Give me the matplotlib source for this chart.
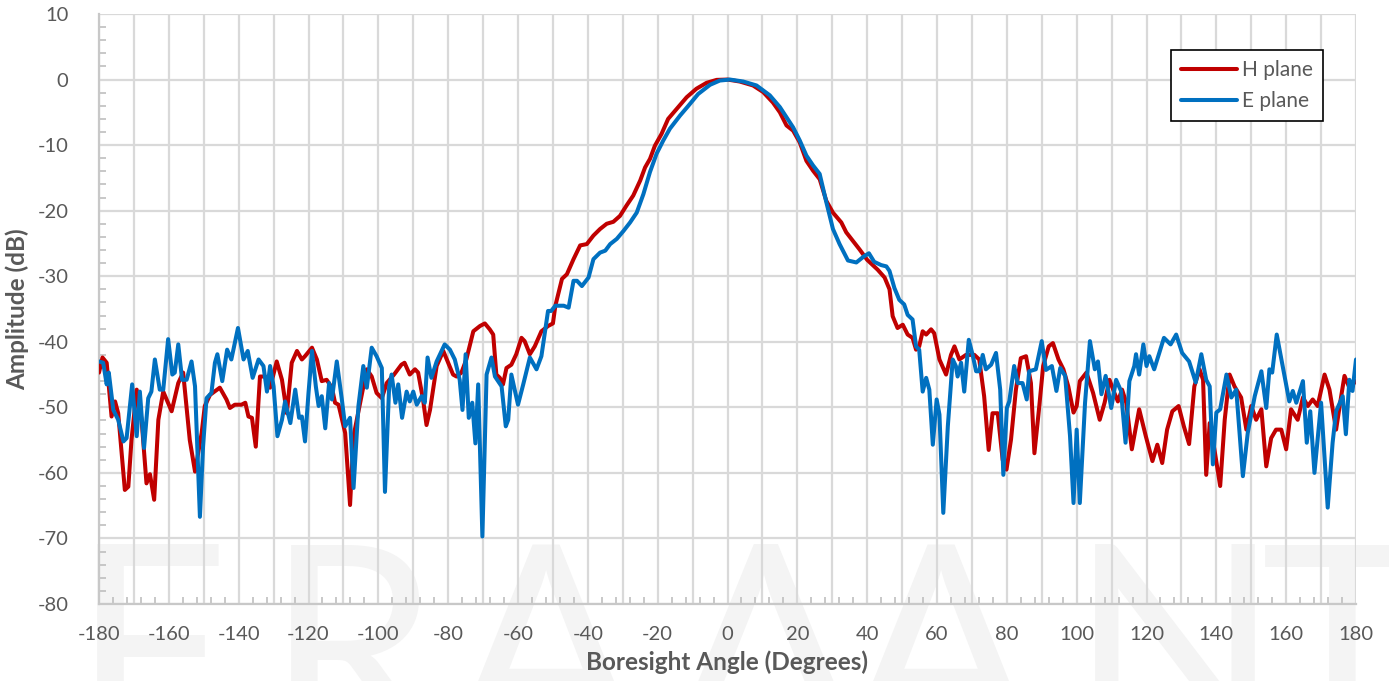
import matplotlib
matplotlib.use("Agg")
import matplotlib.pyplot as plt
from matplotlib.ticker import MultipleLocator, FuncFormatter

plt.rcParams["axes.unicode_minus"] = False

# ---------------- data ----------------
h_angle = [-180, -179, -177.8, -176.4, -175.4, -174.5, -172.6, -171.6, -170.7, -169.2,
           -167.8, -166.4, -165.4, -164.2, -163, -161.6, -159.2, -157.3, -155.9, -154,
           -152.5, -150.6, -149.7, -148.2, -145.4, -143.5, -142.5, -141.1, -139.2, -138.1,
           -137.2, -136.2, -135.1, -133.9, -132.4, -131, -129.1, -127.6, -126.2, -124.8,
           -123.3, -121.9, -121, -119, -117.6, -116.2, -114.8, -113.3, -112.4, -111.4,
           -109.5, -108.1, -107.1, -105.2, -103.3, -101.9, -100.5, -99, -97.6, -95.5,
           -93.4, -92.5, -91, -89.5, -88.6, -87.2, -86.2, -85.2, -83.3, -81.4,
           -80, -78.6, -77.6, -76.2, -74.8, -72.8, -70.9, -69.5, -68.1, -67.1,
           -66.2, -65.2, -64.3, -63.3, -61.9, -60.5, -59, -58.1, -56.6, -55.2,
           -53.3, -51.4, -50, -49.3, -47.4, -46, -44.1, -42.2, -40.3, -38.4,
           -36.5, -34.6, -32.7, -30.8, -28.9, -27, -25, -23.6, -22.2, -20.8,
           -18.9, -17, -14.6, -11.7, -8.9, -6, -3.1, 0, 3.5, 7.3,
           10.2, 13, 15, 16.9, 18.8, 20.7, 22.6, 24.5, 26.4, 28.3,
           30.2, 32.6, 34, 35.9, 37.8, 40, 43, 45, 46.4, 47.3,
           48.7, 50.2, 51.6, 53, 54, 54.9, 55.9, 56.9, 58.3, 59.2,
           60.7, 62.6, 64, 65, 66.4, 68.3, 70.7, 72.1, 73.5, 74.8,
           75.9, 77.4, 78.8, 79.9, 81.2, 82.6, 84, 85.5, 86.9, 87.9,
           89.3, 90.4, 92, 93.2, 94.8, 96.2, 97.6, 99.1, 100, 100.9,
           102.8, 104.7, 106.6, 108, 109.4, 110.8, 111.8, 113, 114.2, 115.8,
           117.9, 119.8, 121.7, 123.1, 124.5, 125.9, 127.4, 129.2, 130.7, 132.2,
           133.7, 135.2, 136.2, 137.1, 138.1, 139, 141.1, 142.4, 143.8, 145.2,
           147.1, 148.6, 150, 151.4, 152.9, 154.3, 155.7, 157.1, 158.6, 160,
           161.4, 163.3, 164.8, 166.2, 167.6, 169, 171, 172.4, 174.3, 175.7,
           176.7, 178.1, 180]
h_plane = [-44.7, -42.4, -43.2, -51.4, -49.1, -50.9, -62.6, -62.1, -55, -47.3,
           -51.9, -61.6, -60.2, -64.1, -51.9, -47.6, -50.6, -46.3, -44.7, -55,
           -59.8, -53.9, -49.8, -48.1, -47, -48.8, -50.1, -49.6, -49.6, -49.3,
           -51.4, -51.6, -56, -45.3, -45.3, -47, -43, -45.8, -50.9, -43.2,
           -41.4, -42.7, -42.2, -40.9, -42.7, -46, -45.8, -47, -49.3, -49.6,
           -53.9, -64.9, -54.4, -49.3, -44.2, -45.3, -47.8, -48.6, -46.3, -45,
           -43.5, -43.2, -45, -44.2, -44.7, -48.8, -52.7, -50.4, -43.7, -41.4,
           -43.2, -45, -45.3, -44.7, -42.7, -38.4, -37.6, -37.2, -38.1, -38.9,
           -45, -45.5, -46.5, -44, -43.5, -41.9, -39.4, -39.9, -41.9, -40.7,
           -38.4, -37.6, -37.2, -34.5, -30.4, -29.7, -27.4, -25.3, -25.1, -23.8,
           -22.8, -22, -21.7, -20.8, -19.2, -17.7, -15.4, -13.4, -12.1, -10.1,
           -8.3, -6, -4.5, -2.7, -1.4, -0.5, -0.05, 0, -0.3, -0.9,
           -1.9, -3.5, -5, -7, -7.8, -9.6, -12.4, -13.9, -15.2, -18.5,
           -20.3, -21.8, -23.3, -24.6, -25.9, -27.5, -29, -30.2, -32, -36.1,
           -37.9, -37.4, -38.9, -39.4, -41.2, -40.7, -38.4, -38.9, -38.1, -38.7,
           -42.7, -45, -42, -40.7, -42.7, -42, -42, -42.7, -48.3, -56.5,
           -50.9, -50.9, -58, -59.5, -54.9, -47.3, -42.5, -42.2, -46.3, -57,
           -49.8, -43.7, -40.7, -40.2, -42.7, -44.2, -46.8, -50.8, -49.8, -46,
           -44.7, -47.8, -51.9, -49.3, -45.8, -47.8, -49.1, -47.3, -49.3, -56.4,
           -50.3, -54.4, -58.2, -55.7, -58.5, -53.4, -50.6, -49.8, -52.9, -55.6,
           -46.8, -44.2, -45.8, -60.3, -52.4, -54.9, -62, -51.9, -45, -46.8,
           -48.5, -53.4, -49.8, -51.9, -50.3, -59, -54.7, -53.4, -53.4, -56.4,
           -50.3, -51.9, -48.5, -49.8, -48.8, -49.8, -45, -47.3, -53.4, -48.5,
           -45.2, -47, -46]

e_angle = [-180, -178.8, -177.8, -177.2, -175.9, -174.5, -173, -172.1, -170.5, -169.2,
           -168.3, -167.1, -165.9, -165, -164, -162.6, -161.6, -160.2, -159, -158.3,
           -157.3, -156.2, -154.9, -153.5, -152.5, -151.1, -150.2, -149.2, -147.8, -146.8,
           -146.1, -144.7, -143.3, -142.1, -140.2, -138.6, -137.4, -136, -134.3, -132.9,
           -131.9, -131, -130, -128.9, -127.6, -126.7, -125.2, -123.8, -122.7, -121.9,
           -121, -120, -119, -117.9, -117.1, -116.2, -115.2, -114.1, -113.3, -111.9,
           -110.5, -109.5, -108.1, -107.1, -105.7, -104.3, -103.3, -101.9, -100.5, -99,
           -98.1, -96.9, -96.2, -95.1, -94.3, -93.2, -91.9, -91, -90, -89,
           -87.6, -86.7, -85.9, -84.8, -83.3, -81, -79.5, -78.1, -76.7, -75.9,
           -75, -74.1, -73.1, -72.2, -71.4, -70.2, -69, -67.6, -66.6, -64.7,
           -63.5, -62.8, -61.9, -60, -58.5, -56.6, -54.7, -53.3, -51.4, -50.5,
           -49.3, -46.9, -45.5, -44.1, -43.1, -41.7, -39.8, -38.4, -36.5, -35,
           -33.6, -31.7, -29.8, -27.9, -26, -24.1, -22.2, -20.3, -18.4, -16.5,
           -13.6, -11.2, -8.4, -5, -2.2, 0.7, 4.5, 8.3, 12.1, 15,
           17.8, 18.8, 20.7, 22.6, 24.5, 26.4, 28.3, 30.2, 32.1, 34.5,
           36.9, 39, 40.5, 42, 44, 45.5, 46.4, 47.8, 49.2, 50.6,
           51.6, 53, 54, 54.9, 55.9, 56.9, 57.8, 58.8, 59.9, 60.7,
           61.8, 63.1, 64.5, 65.4, 65.9, 66.9, 67.8, 69.1, 70.2, 71.2,
           72.1, 73.1, 74, 75.5, 76.9, 78.1, 79, 80, 80.7, 82.1,
           83.1, 84.5, 85.7, 86.4, 88.3, 90, 91.2, 92.9, 94.2, 95.3,
           96.7, 98.1, 99.1, 100, 100.9, 102.4, 103.8, 105.2, 106.1, 107.1,
           108.3, 109.9, 111.3, 112.7, 114, 115.1, 116.5, 117, 117.9, 119.1,
           120, 120.8, 122.2, 125, 126.9, 128.5, 130.2, 132.2, 134.1, 135.7,
           137.1, 138.1, 139, 140, 141.1, 142.9, 144.3, 145.7, 147.6, 149,
           151, 152.9, 154.3, 155.2, 156, 157.3, 159, 160.9, 161.9, 162.9,
           164.8, 165.9, 166.9, 168.1, 170, 171.9, 173.3, 174.3, 176.2, 177.1,
           178.1, 179, 180]
e_plane = [-43, -43.2, -46.5, -44.7, -50.4, -51.9, -55.2, -54.7, -46.5, -54.4,
           -47.6, -56.2, -48.6, -47.6, -42.7, -47.3, -47.3, -39.6, -45, -44.7,
           -40.4, -45.8, -45.8, -43, -46.8, -66.7, -56, -48.6, -47.8, -43.2,
           -41.9, -46, -41.2, -42.7, -37.9, -42.7, -41.4, -45.5, -42.7, -43.7,
           -47.6, -43.7, -46.8, -54.4, -51.9, -49.1, -52.4, -47.3, -51.6, -51.4,
           -55.2, -47.8, -41.4, -46.8, -49.8, -48.3, -53.2, -46.3, -48.8, -43,
           -48.6, -52.9, -51.6, -62.3, -49.8, -43.7, -47, -40.9, -42.2, -44,
           -62.9, -46.8, -45, -49.3, -46.5, -51.6, -47.6, -49.1, -47.6, -49.6,
           -48.3, -49.3, -42.4, -45.5, -43, -40.4, -41.2, -42.7, -45.8, -50.4,
           -41.9, -51.6, -49.3, -55.5, -46.5, -69.7, -45, -42.4, -45.3, -46.8,
           -52.9, -51.9, -45, -49.6, -46.5, -42.4, -44.2, -42.2, -35.3, -35.3,
           -34.5, -34.5, -34.8, -30.7, -30.7, -31.5, -30.2, -27.4, -26.4, -26.1,
           -25.1, -24.3, -23.1, -21.8, -20.3, -17.5, -14.1, -11.3, -9.3, -7.5,
           -5.5, -4, -2.2, -0.8, -0.15, 0, -0.3, -0.9, -2.4, -4.2,
           -6.5, -7.3, -9.3, -11.6, -13.1, -14.4, -18.7, -22.8, -25.1, -27.6,
           -27.9, -27, -26.5, -27.8, -28.3, -28.5, -29.2, -31.8, -33.6, -34.3,
           -35.9, -36.6, -40.7, -41.2, -47.6, -45.5, -47.3, -55.7, -48.8, -51.1,
           -66.1, -52.9, -42.7, -43.7, -45.3, -43.2, -47.6, -39.7, -42, -44.5,
           -44.5, -42, -44.2, -43.5, -41.7, -47.3, -60.3, -50.1, -49.1, -43.7,
           -46.3, -46.3, -48.8, -44.5, -44.2, -39.9, -44.3, -43.7, -47.5, -44,
           -45.2, -54.4, -64.6, -53.4, -64.6, -49.3, -39.9, -44.2, -43, -48,
           -45.2, -50.1, -45.8, -47.5, -55.4, -46, -43.7, -41.9, -45, -40.4,
           -43.7, -42.2, -44.2, -39.4, -40.4, -38.9, -41.7, -43, -46.2, -41.9,
           -45.8, -46.8, -58.7, -50.8, -50.3, -45, -48.5, -47.3, -60.5, -53.9,
           -48.3, -44.5, -50.1, -44.2, -44.7, -38.9, -43.7, -49.1, -47.5, -49.3,
           -46, -55.4, -50.6, -60, -49.3, -65.3, -55.4, -50.6, -48.3, -54.1,
           -45.8, -47.5, -42.7]

series_labels = ["H plane", "E plane"]
x_ticks = list(range(-180, 181, 20))
y_ticks = list(range(-80, 11, 10))
watermark_letters = ["F", "R", "A", "Λ", "A", "N", "T"]

# ---------------- style ----------------
W, H = 1389, 681
DPI = 100
FONT = ["Lato", "DejaVu Sans"]
TXT = "#595959"
GRID = "#d9d9d9"

fig = plt.figure(figsize=(W / DPI, H / DPI), dpi=DPI)
fig.patch.set_facecolor("white")

# watermark (behind everything)
wm_x = [150, 352, 545, 765, 940, 1175, 1342]
for ch, xp in zip(watermark_letters, wm_x):
    fig.text(xp / W, 1 - 742 / H, ch, ha="center", va="baseline",
             fontsize=198, color="#f4f4f4", family=FONT, fontweight="normal",
             zorder=-10)

left, right, top, bottom = 99, 1356, 14, 604
ax = fig.add_axes([left / W, 1 - bottom / H, (right - left) / W, (bottom - top) / H])
ax.patch.set_alpha(0)

ax.plot(h_angle, h_plane, color="#c00000", lw=2.9, label=series_labels[0],
        solid_joinstyle="round", solid_capstyle="round", zorder=3)
ax.plot(e_angle, e_plane, color="#0070c0", lw=2.9, label=series_labels[1],
        solid_joinstyle="round", solid_capstyle="round", zorder=4)

ax.set_xlim(-180, 180)
ax.set_ylim(-80, 10)

# x: gridlines every 10, labels every 20, minor tick marks every 4
ax.xaxis.set_major_locator(MultipleLocator(10))
ax.xaxis.set_major_formatter(FuncFormatter(
    lambda v, p: f"{int(round(v))}" if int(round(v)) in x_ticks else ""))
ax.xaxis.set_minor_locator(MultipleLocator(4))
ax.set_yticks(y_ticks)
ax.yaxis.set_minor_locator(MultipleLocator(2))

ax.grid(True, which="major", color=GRID, lw=1.6, zorder=0)
ax.set_axisbelow(True)

ax.tick_params(axis="both", which="major", length=0, labelsize=14.5,
               labelcolor=TXT)
ax.tick_params(axis="x", which="major", pad=16)
ax.tick_params(axis="y", which="major", pad=22)
ax.tick_params(axis="both", which="minor", direction="in", length=5,
               width=1.2, color="#bfbfbf")
for lab in ax.get_xticklabels() + ax.get_yticklabels():
    lab.set_family(FONT)

for s in ["top", "right"]:
    ax.spines[s].set_visible(False)
for s in ["left", "bottom"]:
    ax.spines[s].set_color("#c8c8c8")
    ax.spines[s].set_linewidth(1.6)

ax.set_xlabel("Boresight Angle (Degrees)", fontsize=17.5, fontweight="bold",
              color=TXT, family=FONT, labelpad=5)
ax.set_ylabel("Amplitude (dB)", fontsize=17.5, fontweight="bold",
              color=TXT, family=FONT, labelpad=6)

leg = ax.legend(loc="upper right", bbox_to_anchor=(0.9737, 0.939),
                borderaxespad=0, handlelength=2.7,
                handletextpad=0.2, labelspacing=0.5, borderpad=0.5,
                fancybox=False, framealpha=1, edgecolor="black",
                prop={"family": FONT, "size": 15})
leg.get_frame().set_linewidth(1.2)
for t in leg.get_texts():
    t.set_color(TXT)

fig.savefig("out.png", dpi=DPI, facecolor="white")
